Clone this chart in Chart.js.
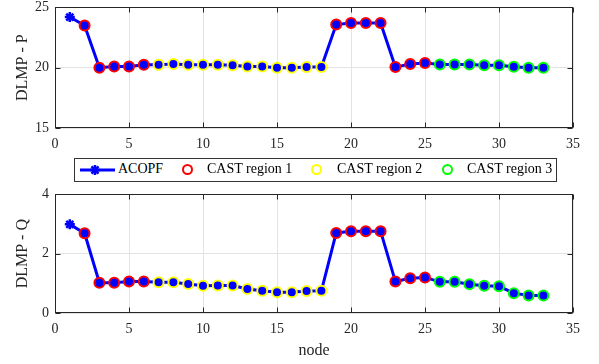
<!DOCTYPE html>
<html>
<head>
<meta charset="utf-8">
<script src="https://cdn.jsdelivr.net/npm/chart.js@4/dist/chart.umd.min.js"></script>
<style>
  body { margin: 0; background: #fff; }
  #wrap { position: relative; width: 599px; height: 364px; overflow: hidden; }
  #topBox { position: absolute; left: 0; top: -7px; width: 599px; height: 159px; }
  #botBox { position: absolute; left: 0; top: 180px; width: 599px; height: 184px; }
  #legend {
    position: absolute; left: 74px; top: 158px; width: 481px; height: 22px;
    border: 1px solid #333; background: #fff;
    font: 14px "Liberation Serif", serif; color: #000;
  }
  #legend span { position: absolute; top: 2px; white-space: nowrap; }
  #legend .ring {
    position: absolute; top: 5px; width: 7px; height: 7px;
    border: 2px solid; border-radius: 50%;
  }
</style>
</head>
<body>
<div id="wrap">
  <div id="topBox"><canvas id="chartP"></canvas></div>
  <div id="legend">
    <canvas id="acIcon" width="38" height="22" style="position:absolute;left:3px;top:0"></canvas>
    <span style="left:43px">ACOPF</span>
    <div class="ring" style="left:107px;border-color:#ff0000"></div>
    <span style="left:132px">CAST region 1</span>
    <div class="ring" style="left:236px;border-color:#ffff00"></div>
    <span style="left:262px">CAST region 2</span>
    <div class="ring" style="left:367px;border-color:#00ff00"></div>
    <span style="left:392px">CAST region 3</span>
  </div>
  <div id="botBox"><canvas id="chartQ"></canvas></div>
</div>
<script>
// node numbers
const nodes = [1, 2, 3, 4, 5, 6, 7, 8, 9, 10, 11, 12, 13, 14, 15, 16, 17,
  18, 19, 20, 21, 22, 23, 24, 25, 26, 27, 28, 29, 30, 31, 32, 33];

// DLMP - P per node
const dlmpP = [24.2, 23.5, 20.0, 20.1, 20.1, 20.25, 20.25, 20.3, 20.25, 20.25, 20.25,
  20.2, 20.1, 20.1, 20.0, 20.0, 20.05, 20.05, 23.58, 23.7, 23.7, 23.7, 20.05,
  20.3, 20.38, 20.27, 20.27, 20.27, 20.2, 20.2, 20.08, 20.0, 20.0];

// DLMP - Q per node
const dlmpQ = [2.99, 2.69, 1.02, 1.02, 1.06, 1.06, 1.04, 1.04, 0.98, 0.92, 0.93,
  0.93, 0.81, 0.75, 0.70, 0.70, 0.74, 0.75, 2.70, 2.76, 2.76, 2.76, 1.06,
  1.17, 1.20, 1.05, 1.05, 0.97, 0.92, 0.90, 0.67, 0.59, 0.59];

// which nodes belong to each CAST region
const region1 = [2, 3, 4, 5, 6, 19, 20, 21, 22, 23, 24, 25];
const region2 = [7, 8, 9, 10, 11, 12, 13, 14, 15, 16, 17, 18];
const region3 = [26, 27, 28, 29, 30, 31, 32, 33];

const xTicks = [0, 5, 10, 15, 20, 25, 30, 35];
const pTicks = [15, 20, 25];
const qTicks = [0, 2, 4];

const FONT = "Liberation Serif";

function pts(vals) {
  return nodes.map((n, i) => ({ x: n, y: vals[i] }));
}
function regionPts(vals, reg) {
  return nodes.filter(n => reg.includes(n)).map(n => ({ x: n, y: vals[nodes.indexOf(n)] }));
}

/* box around the axes + inward ticks, like matlab */
const boxPlugin = {
  id: "boxPlugin",
  afterDraw(chart) {
    const { ctx, chartArea: a, scales: { x, y } } = chart;
    ctx.save();
    ctx.strokeStyle = "#262626";
    ctx.lineWidth = 1;
    const L = Math.round(a.left) + 0.5, R = Math.round(a.right) - 0.5;
    const T = Math.round(a.top) + 0.5, B = Math.round(a.bottom) - 0.5;
    ctx.strokeRect(L, T, R - L, B - T);
    ctx.beginPath();
    x.ticks.forEach(t => {
      const px = Math.round(x.getPixelForValue(t.value)) + 0.5;
      ctx.moveTo(px, B); ctx.lineTo(px, B - 5);
      ctx.moveTo(px, T); ctx.lineTo(px, T + 5);
    });
    y.ticks.forEach(t => {
      const py = Math.round(y.getPixelForValue(t.value)) + 0.5;
      ctx.moveTo(L, py); ctx.lineTo(L + 5, py);
      ctx.moveTo(R, py); ctx.lineTo(R - 5, py);
    });
    ctx.stroke();
    ctx.restore();
  }
};

function makeChart(id, vals, yTicks, yTitle, showNode, padTop, xHeight) {
  const castStyle = (c) => ({
    showLine: false,
    pointRadius: 5,
    pointBorderWidth: 2,
    pointBorderColor: c,
    pointBackgroundColor: "#0000ff",
    order: 1
  });
  return new Chart(document.getElementById(id), {
    type: "line",
    data: {
      datasets: [
        {
          label: "ACOPF",
          data: pts(vals),
          borderColor: "#0000ff",
          borderWidth: 3,
          pointStyle: "star",
          pointRadius: 5,
          pointBorderWidth: 2.5,
          pointBorderColor: "#0000ff",
          pointBackgroundColor: "#0000ff",
          order: 4
        },
        Object.assign({ label: "CAST region 1", data: regionPts(vals, region1) }, castStyle("#ff0000")),
        Object.assign({ label: "CAST region 2", data: regionPts(vals, region2) }, castStyle("#ffff00")),
        Object.assign({ label: "CAST region 3", data: regionPts(vals, region3) }, castStyle("#00ff00"))
      ]
    },
    options: {
      responsive: true,
      maintainAspectRatio: false,
      animation: false,
      layout: { padding: { top: padTop, right: 26, left: 0, bottom: 0 } },
      plugins: { legend: { display: false }, tooltip: { enabled: false } },
      scales: {
        x: {
          type: "linear",
          min: 0, max: 35,
          afterBuildTicks: (s) => { s.ticks = xTicks.map(v => ({ value: v })); },
          afterFit: (s) => { s.height = xHeight; },
          grid: { color: "#e3e3e3", drawTicks: false },
          border: { display: false },
          ticks: { color: "#262626", padding: 8, font: { family: FONT, size: 14 } },
          title: {
            display: showNode, text: "node", color: "#262626",
            padding: { top: 3 }, font: { family: FONT, size: 16 }
          }
        },
        y: {
          min: yTicks[0], max: yTicks[yTicks.length - 1],
          afterBuildTicks: (s) => { s.ticks = yTicks.map(v => ({ value: v })); },
          afterFit: (s) => { s.width = 55; },
          grid: { color: "#e3e3e3", drawTicks: false },
          border: { display: false },
          ticks: { color: "#262626", padding: 6, font: { family: FONT, size: 14 } },
          title: {
            display: true, text: yTitle, color: "#262626",
            padding: { top: 13, bottom: 0 }, font: { family: FONT, size: 16 }
          }
        }
      }
    },
    plugins: [boxPlugin]
  });
}

makeChart("chartP", dlmpP, pTicks, "DLMP - P", false, 6, 24);
makeChart("chartQ", dlmpQ, qTicks, "DLMP - Q", true, 11, 51);

// legend icon for ACOPF: line with an asterisk
const ic = document.getElementById("acIcon").getContext("2d");
ic.strokeStyle = "#0000ff";
ic.lineWidth = 3;
ic.beginPath(); ic.moveTo(2, 11); ic.lineTo(37, 11); ic.stroke();
ic.lineWidth = 2.5;
ic.beginPath();
for (let k = 0; k < 4; k++) {
  const ang = k * Math.PI / 4;
  ic.moveTo(17 - 5 * Math.cos(ang), 11 - 5 * Math.sin(ang));
  ic.lineTo(17 + 5 * Math.cos(ang), 11 + 5 * Math.sin(ang));
}
ic.stroke();
</script>
</body>
</html>
